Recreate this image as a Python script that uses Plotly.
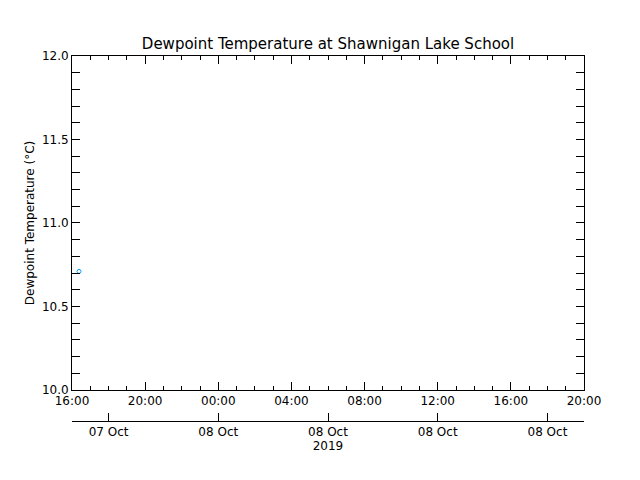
import plotly.graph_objects as go

times = ["2019-10-07 16:23"]
dewpoint = [10.71]

x_range = ["2019-10-07 16:00", "2019-10-08 20:00"]
day_ticks = ["2019-10-07 18:00", "2019-10-08 00:00", "2019-10-08 06:00",
             "2019-10-08 12:00", "2019-10-08 18:00"]
day_labels = ["07 Oct", "08 Oct", "08 Oct", "08 Oct", "08 Oct"]

font = dict(family="DejaVu Sans", size=12, color="black")

fig = go.Figure()
fig.add_trace(go.Scatter(x=times, y=dewpoint, mode="markers",
                         marker=dict(symbol="circle-open", size=4, color="#00a0ff", line=dict(width=1)),
                         showlegend=False))
fig.add_trace(go.Scatter(x=[], y=[], xaxis="x2", showlegend=False))

fig.update_layout(
    width=640, height=480,
    margin=dict(l=64, r=64, t=48, b=67, autoexpand=False),
    paper_bgcolor="white", plot_bgcolor="white",
    font=font,
    title=dict(text="Dewpoint Temperature at Shawnigan Lake School", x=0.5, y=0.915,
               xanchor="center", yanchor="bottom", font=dict(size=15), automargin=False),
    xaxis=dict(type="date", range=x_range, dtick=4 * 3600000, tick0="2019-10-07 16:00",
               tickformat="%H:%M", ticks="inside", ticklen=8, tickcolor="black",
               showline=True, linecolor="black", mirror="allticks", showgrid=False,
               minor=dict(dtick=3600000, ticks="inside", ticklen=4, tickcolor="black"),
               automargin=False),
    xaxis2=dict(type="date", range=x_range, anchor="free", position=0, overlaying="x",
                tickvals=day_ticks, ticktext=day_labels, ticks="inside", ticklen=8,
                tickcolor="black", showline=True, linecolor="black", showgrid=False,
                title=dict(text="2019", standoff=0, font=dict(size=12)), automargin=False),
    yaxis=dict(range=[10.0, 12.0], domain=[0.085, 1], dtick=0.5, tickformat=".1f",
               ticks="inside", ticklen=8, tickcolor="black", showline=True, linecolor="black",
               mirror="allticks", showgrid=False, zeroline=False, automargin=False,
               minor=dict(dtick=0.1, ticks="inside", ticklen=4, tickcolor="black"),
               title=dict(text="Dewpoint Temperature (°C)", standoff=4, font=dict(size=12))),
)

fig.write_html("out.html")
